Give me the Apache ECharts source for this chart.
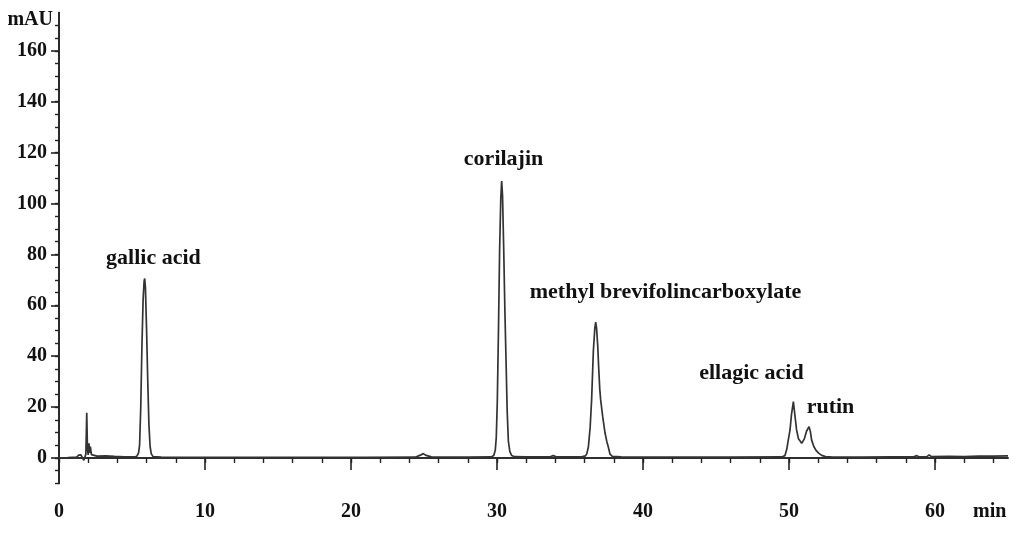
<!DOCTYPE html>
<html>
<head>
<meta charset="utf-8">
<script src="https://cdn.jsdelivr.net/npm/echarts@6/dist/echarts.min.js"></script>
<style>html,body{margin:0;padding:0;background:#fff}#c{width:1024px;height:538px}</style>
</head>
<body>
<div id="c"></div>
<script>
// Chromatogram trace: [time (min), absorbance (mAU)]
const trace = [
[0,0.0],[0.6,0.1],[1.2,0.3],[1.35,1.1],[1.5,1.2],[1.62,0.6],[1.7,-0.9],[1.78,-0.3],[1.84,1.5],[1.9,17.8],[1.95,3.5],[2.0,1.2],[2.05,5.8],[2.1,2.0],[2.15,4.5],[2.22,1.3],[2.35,1.0],[2.6,0.7],[3.2,0.8],[3.8,0.6],[4.5,0.4],[5.2,0.4],[5.35,0.8],[5.45,2.0],[5.52,5],[5.6,20],[5.68,44],[5.76,62],[5.83,69.5],[5.87,70.5],[5.92,67],[6.0,50],[6.08,30],[6.16,13],[6.24,4.5],[6.32,1.6],[6.45,0.5],[7,0.3],[9,0.2],[12,0.2],[15,0.2],[18,0.2],[21,0.2],[24.4,0.3],[24.75,1.1],[24.95,1.7],[25.15,1.0],[25.5,0.4],[28,0.3],[29.6,0.4],[29.78,1.0],[29.88,3],[29.95,8],[30.02,22],[30.1,50],[30.18,82],[30.26,102],[30.32,108.8],[30.38,103],[30.46,82],[30.54,58],[30.62,38],[30.7,18],[30.78,6.5],[30.88,2.5],[31.0,1.0],[31.2,0.5],[32,0.4],[33.6,0.4],[33.85,0.9],[34.1,0.4],[35.8,0.4],[36.05,0.8],[36.15,1.6],[36.26,4.4],[36.38,12],[36.48,22.8],[36.6,42],[36.7,51],[36.76,53.4],[36.82,51],[36.9,44],[36.96,36],[37.04,27],[37.1,22.8],[37.24,16.2],[37.4,9.8],[37.52,6.5],[37.62,4.4],[37.74,1.5],[37.9,0.6],[38.5,0.4],[42,0.3],[46,0.3],[49.5,0.4],[49.72,0.9],[49.85,3.5],[49.95,7],[50.07,11],[50.17,17],[50.3,22.1],[50.42,16],[50.52,11],[50.65,7.5],[50.87,5.8],[51.05,7.5],[51.2,10.5],[51.37,12.3],[51.46,10.5],[51.55,7.0],[51.7,4.5],[51.85,3.0],[52.05,1.8],[52.24,1.0],[52.5,0.5],[53,0.3],[55,0.3],[57,0.4],[58.5,0.4],[58.75,0.9],[58.95,0.4],[59.45,0.5],[59.6,1.2],[59.75,0.5],[61,0.6],[62,0.5],[63,0.7],[64,0.7],[65,0.8]
];

// Peak annotations (text centre in data coordinates)
const peakNames = ['gallic acid','corilajin','methyl brevifolincarboxylate','ellagic acid','rutin'];
const peakLabelTimes = [6.47, 30.45, 41.54, 47.43, 52.84];
const peakLabelValues = [78.6, 117.5, 65.2, 33.4, 20.0];

// Axis ticks
const xMajorTicks = [0,10,20,30,40,50,60];
const xMinorTicks = [0,2,4,6,8,10,12,14,16,18,20,22,24,26,28,30,32,34,36,38,40,42,44,46,48,50,52,54,56,58,60,62,64];
const yMajorTicks = [0,20,40,60,80,100,120,140,160];
const yMinorTicks = [-10,-5,0,5,10,15,20,25,30,35,40,45,50,55,60,65,70,75,80,85,90,95,100,105,110,115,120,125,130,135,140,145,150,155,160,165,170];

const X_MIN = 0, X_MAX = 65, Y_MIN = -10, Y_MAX = 175;
const FONT = '"Liberation Serif", "DejaVu Serif", "Times New Roman", serif';
const AX = '#222';

const chart = echarts.init(document.getElementById('c'), null, {renderer: 'canvas'});
chart.setOption({
  animation: false,
  backgroundColor: '#fff',
  grid: {left: 59, right: 16, top: 12.6, bottom: 54.6, containLabel: false},
  graphic: [{
    type: 'text', left: 973, top: 502,
    style: {text: 'min', fontFamily: FONT, fontWeight: 'bold', fontSize: 20, fill: '#111'}
  }],
  xAxis: [
    {
      type: 'value', gridIndex: 0, position: 'bottom', min: X_MIN, max: X_MAX,
      axisLine: {show: true, lineStyle: {color: AX, width: 1.6}},
      axisTick: {show: true, customValues: xMinorTicks, length: 5, lineStyle: {color: AX, width: 1.4}},
      axisLabel: {show: false},
      splitLine: {show: false}
    },
    {
      type: 'value', gridIndex: 0, position: 'bottom', offset: 0, min: X_MIN, max: X_MAX,
      axisLine: {show: true, lineStyle: {color: AX, width: 1.6}},
      axisTick: {show: true, customValues: xMajorTicks, length: 12, lineStyle: {color: AX, width: 1.6}},
      axisLabel: {show: true, customValues: xMajorTicks, margin: 18, fontFamily: FONT, fontWeight: 'bold', fontSize: 20, color: '#111'},
      splitLine: {show: false}
    }
  ],
  yAxis: [
    {
      type: 'value', gridIndex: 0, position: 'left', min: Y_MIN, max: Y_MAX,
      axisLine: {show: true, lineStyle: {color: AX, width: 1.6}},
      axisTick: {show: true, customValues: yMinorTicks, length: 4, lineStyle: {color: AX, width: 1.4}},
      axisLabel: {show: false},
      splitLine: {show: false}
    },
    {
      type: 'value', gridIndex: 0, position: 'left', offset: 0, min: Y_MIN, max: Y_MAX,
      name: 'mAU', nameLocation: 'end', nameGap: -7,
      nameTextStyle: {fontFamily: FONT, fontWeight: 'bold', fontSize: 20, color: '#111', align: 'right', verticalAlign: 'middle', padding: [0, 6, 0, 0]},
      axisLine: {show: true, lineStyle: {color: AX, width: 1.6}},
      axisTick: {show: true, customValues: yMajorTicks, length: 8, lineStyle: {color: AX, width: 1.6}},
      axisLabel: {show: true, customValues: yMajorTicks, margin: 12, fontFamily: FONT, fontWeight: 'bold', fontSize: 20, color: '#111'},
      splitLine: {show: false}
    }
  ],
  series: [{
    type: 'line',
    xAxisIndex: 0, yAxisIndex: 0,
    data: trace,
    showSymbol: false,
    symbol: 'none',
    smooth: false,
    lineStyle: {color: '#333', width: 1.7},
    markPoint: {
      symbol: 'circle', symbolSize: 1,
      itemStyle: {color: 'rgba(0,0,0,0)'},
      label: {show: true, position: 'inside', formatter: '{b}', fontFamily: FONT, fontWeight: 'bold', fontSize: 22, color: '#111'},
      data: peakNames.map((n, i) => ({name: n, coord: [peakLabelTimes[i], peakLabelValues[i]]}))
    }
  }]
});
</script>
</body>
</html>
